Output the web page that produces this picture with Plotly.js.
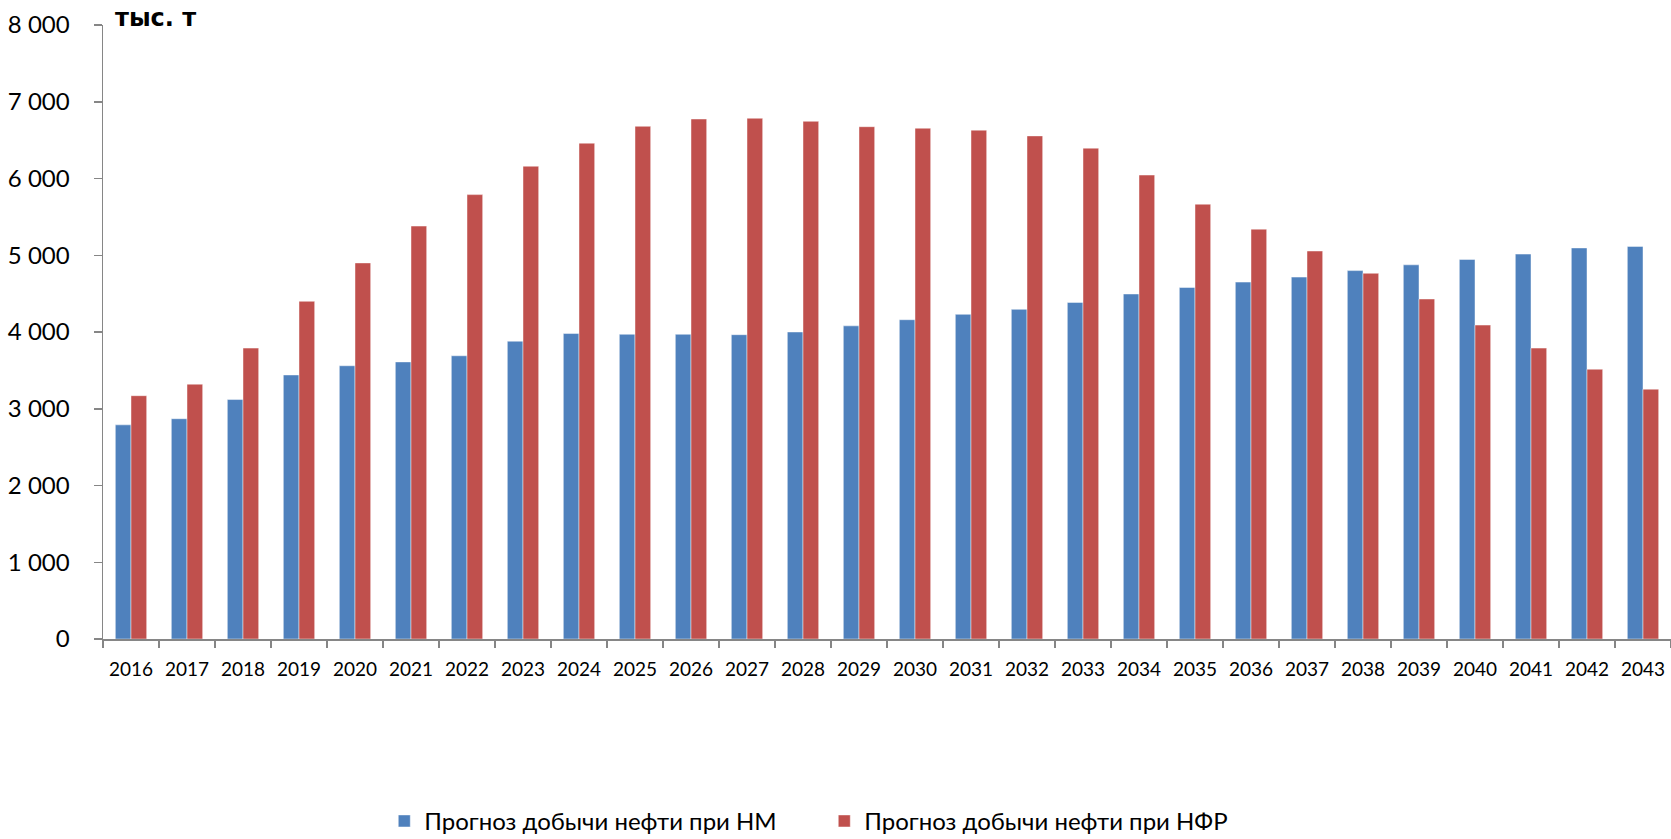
<!DOCTYPE html>
<html>
<head>
<meta charset="utf-8">
<script src="https://cdn.plot.ly/plotly-3.0.1.min.js"></script>
<style>html,body{margin:0;padding:0;background:#fff;}#chart{width:1671px;height:839px;}</style>
</head>
<body>
<div id="chart"></div>
<script>
const years = ["2016","2017","2018","2019","2020","2021","2022","2023","2024","2025","2026","2027","2028","2029","2030","2031","2032","2033","2034","2035","2036","2037","2038","2039","2040","2041","2042","2043"];
const seriesNM = [2790,2870,3120,3440,3560,3610,3690,3880,3980,3970,3970,3965,4000,4080,4160,4230,4295,4385,4495,4580,4650,4715,4800,4875,4945,5015,5095,5115];
const seriesNFR = [3170,3320,3790,4400,4900,5380,5790,6160,6460,6680,6775,6785,6745,6675,6655,6630,6555,6395,6045,5665,5340,5055,4765,4430,4090,3790,3515,3255];
const nameNM = "Прогноз добычи нефти при НМ";
const nameNFR = "Прогноз добычи нефти при НФР";
const yTicks = [0,1000,2000,3000,4000,5000,6000,7000,8000];
const yTickText = ["0","1 000","2 000","3 000","4 000","5 000","6 000","7 000","8 000"];

const edge = {color:"rgba(255,255,255,0.45)", width:1};
const data = [
  {type:"bar", x:years, y:seriesNM, name:nameNM, marker:{color:"#4F81BD", line:edge}},
  {type:"bar", x:years, y:seriesNFR, name:nameNFR, marker:{color:"#C0504D", line:edge}}
];
const axisFont = "Lato, 'Open Sans', sans-serif";
const layout = {
  width:1671, height:839,
  margin:{l:103, r:0, t:25, b:200, autoexpand:false},
  paper_bgcolor:"#fff", plot_bgcolor:"#fff",
  barmode:"group", bargap:0.44, bargroupgap:0,
  showlegend:true,
  title:{text:"тыс. т", x:115/1671, xanchor:"left", xref:"container", y:1-18/839, yanchor:"middle", yref:"container",
         font:{family:"'DejaVu Sans', sans-serif", size:24, color:"#000", weight:"bold"}},
  xaxis:{type:"category", showline:true, linecolor:"#868686", linewidth:1.5, ticks:"outside", tickson:"boundaries",
         ticklen:7, tickcolor:"#868686", tickwidth:1.5, showgrid:false, zeroline:false,
         tickfont:{family:axisFont, size:19, color:"#000"}, ticklabelstandoff:13, fixedrange:true},
  yaxis:{range:[0,8000], tickvals:yTicks, ticktext:yTickText, showline:true, linecolor:"#868686", linewidth:1.5,
         ticks:"outside", ticklen:8, tickcolor:"#868686", tickwidth:1.5, showgrid:false, zeroline:false,
         tickfont:{family:axisFont, size:24, color:"#000"}, ticklabelstandoff:19, fixedrange:true},
  legend:{orientation:"h", x:0.46, xanchor:"center", y:-0.297, yanchor:"middle",
          font:{family:axisFont, size:24, color:"#000"}, itemwidth:30, traceorder:"normal", entrywidth:395}
};
Plotly.newPlot("chart", data, layout, {displayModeBar:false, staticPlot:true});
</script>
</body>
</html>
